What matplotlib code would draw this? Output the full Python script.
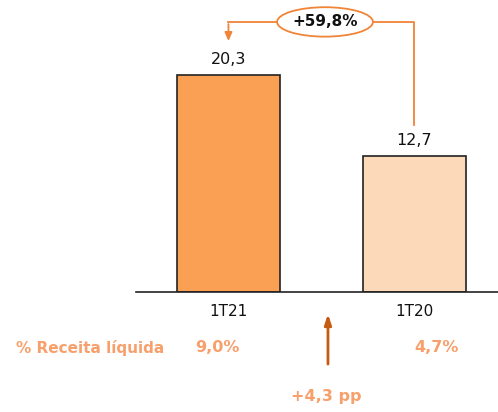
import matplotlib.pyplot as plt
from matplotlib.patches import Ellipse

categories = ["1T21", "1T20"]
values = [20.3, 12.7]
value_labels = ["20,3", "12,7"]
pct_labels = ["9,0%", "4,7%"]
growth_label = "+59,8%"
pp_label = "+4,3 pp"
row_label = "% Receita líquida"

bar_colors = ["#F9A054", "#FCD9B8"]
line_orange = "#F08437"
dark_orange = "#C55A11"
text_orange = "#F7A06C"

fig = plt.figure(figsize=(4.98, 4.12), dpi=100)
ax = fig.add_axes([136 / 498, 120 / 412, 362 / 498, 292 / 412])

x = [0, 1]
ax.bar(x, values, width=0.554, color=bar_colors, edgecolor="#222222", linewidth=1.2)
ax.set_xlim(-0.497, 1.449)
ax.set_ylim(0, 27.3)

for s in ["top", "right", "left"]:
    ax.spines[s].set_visible(False)
ax.spines["bottom"].set_color("#222222")
ax.spines["bottom"].set_linewidth(1.2)
ax.set_yticks([])
ax.set_xticks([])

for xi, v, lab in zip(x, values, value_labels):
    ax.text(xi, v + 0.75, lab, ha="center", va="bottom", fontsize=11.5, color="#111111")

# category labels below axis
for xi, c in zip(x, categories):
    ax.text(xi, -1.85, c, ha="center", va="center", fontsize=11, color="#111111", clip_on=False)

# percentage row
ax.text(-0.742, -5.2, row_label, ha="center", va="center", fontsize=11,
        fontweight="bold", color=text_orange, clip_on=False)
ax.text(-0.062, -5.2, pct_labels[0], ha="center", va="center", fontsize=11.5,
        fontweight="bold", color=text_orange, clip_on=False)
ax.text(1.12, -5.2, pct_labels[1], ha="center", va="center", fontsize=11.5,
        fontweight="bold", color=text_orange, clip_on=False)

# up arrow and pp text
ax.annotate("", xy=(0.535, -1.8), xytext=(0.535, -7.0),
            arrowprops=dict(arrowstyle="-|>,head_width=0.2,head_length=0.6",
                            color=dark_orange, lw=2.0), annotation_clip=False)
ax.text(0.525, -9.8, pp_label, ha="center", va="center", fontsize=11.5,
        fontweight="bold", color=text_orange, clip_on=False)

# growth bracket
ey = 25.25
ax.add_patch(Ellipse((0.519, ey), 0.515, 2.75, facecolor="white",
                     edgecolor=line_orange, lw=1.3, clip_on=False, zorder=3))
ax.text(0.519, ey, growth_label, ha="center", va="center", fontsize=11,
        fontweight="bold", color="#111111", zorder=4, clip_on=False)
ax.plot([0.262, 0.0], [ey, ey], color=line_orange, lw=1.3, clip_on=False)
ax.annotate("", xy=(0.0, 23.2), xytext=(0.0, ey + 0.06),
            arrowprops=dict(arrowstyle="-|>,head_width=0.22,head_length=0.5",
                            color=line_orange, lw=1.3), annotation_clip=False)
ax.plot([0.776, 1.0, 1.0], [ey, ey, 15.6], color=line_orange, lw=1.3, clip_on=False)

fig.savefig("out.png", dpi=100)
